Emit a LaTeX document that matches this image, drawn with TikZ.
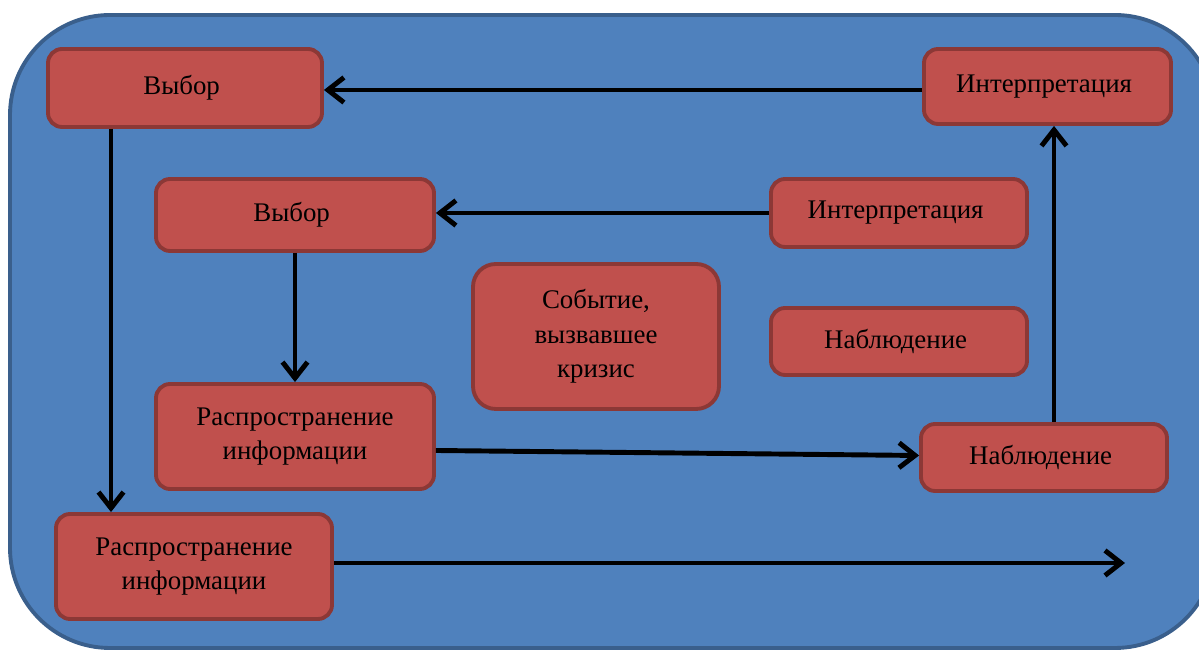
\documentclass[tikz,border=0pt]{standalone}
\usepackage{fontspec}
\setmainfont{Liberation Serif}
\usetikzlibrary{arrows.meta}

\definecolor{bgblue}{HTML}{4F81BD}
\definecolor{bgedge}{HTML}{3A5F8C}
\definecolor{boxred}{HTML}{C0504D}
\definecolor{boxedge}{HTML}{8C3836}

\tikzset{
    stagebox/.style={draw=boxedge, fill=boxred, line width=2.2pt, rounded corners=8pt,
        align=center, inner sep=2pt, font=\fontsize{15.3}{19.5}\selectfont},
    flow/.style={line width=2.8pt, -{Straight Barb[length=0.32cm,width=0.5cm,line width=2.8pt]}}
}

\begin{document}
\begin{tikzpicture}
                \useasboundingbox (0,0) rectangle (23.98,13);
                \begin{scope}
                \clip (0,0) rectangle (23.98,13);
                \draw[draw=bgedge, fill=bgblue, line width=2.2pt, rounded corners=2cm] (0.2,12.7) rectangle (24.3,0.04);
                \end{scope}

                \node[stagebox, minimum width=5.48cm, minimum height=1.56cm] (choiceA) at (3.70, 11.24) { Выбор };
                \node[stagebox, minimum width=4.94cm, minimum height=1.50cm] (interpA) at (20.95, 11.27) { Интерпретация };
                \node[stagebox, minimum width=5.56cm, minimum height=1.44cm] (choiceB) at (5.90, 8.70) { Выбор };
                \node[stagebox, minimum width=5.12cm, minimum height=1.36cm] (interpB) at (17.98, 8.74) { Интерпретация };
                \node[stagebox, rounded corners=13pt, minimum width=4.92cm, minimum height=2.90cm] (event) at (11.92, 6.27) { Событие,\\ вызвавшее\\ кризис };
                \node[stagebox, minimum width=5.12cm, minimum height=1.34cm] (observB) at (17.98, 6.17) { Наблюдение };
                \node[stagebox, minimum width=5.56cm, minimum height=2.10cm] (spreadB) at (5.90, 4.27) { Распространение\\ информации };
                \node[stagebox, minimum width=4.92cm, minimum height=1.34cm] (observA) at (20.88, 3.85) { Наблюдение };
                \node[stagebox, minimum width=5.52cm, minimum height=2.10cm] (spreadA) at (3.88, 1.67) { Распространение\\ информации };
                \coordinate (open) at (22.5, 1.74);

                % outer loop
                \draw[flow] ([yshift=-0.07cm]interpA.west) -- ([yshift=-0.07cm]choiceA.east |- interpA.west);
                \draw[flow] ([xshift=-1.48cm]choiceA.south) -- ([xshift=-1.48cm]choiceA.south |- spreadA.north);
                \draw[flow] (spreadA.east |- open) -- (open);
                \draw[flow] ([xshift=0.2cm]observA.north) -- ([xshift=0.2cm]observA.north |- interpA.south);

                % inner loop
                \draw[flow] (interpB.west) -- (choiceB.east |- interpB.west);
                \draw[flow] (choiceB) -- (spreadB);
                \draw[flow] ([yshift=-0.28cm]spreadB.east) -- ([yshift=0.04cm]observA.west);
            \end{tikzpicture}
\end{document}
